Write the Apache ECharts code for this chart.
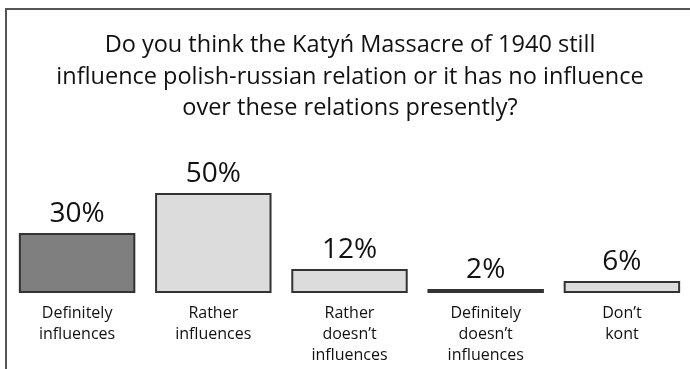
<!DOCTYPE html>
<html>
<head>
<meta charset="utf-8">
<script src="https://cdn.jsdelivr.net/npm/echarts@6/dist/echarts.min.js"></script>
<style>
  html, body { margin: 0; padding: 0; background: #fff; }
  #chart { width: 690px; height: 369px; }
</style>
</head>
<body>
<div id="chart"></div>
<script>
var chartDom = document.getElementById('chart');
var myChart = echarts.init(chartDom);

// data
var categories = [
  'Definitely\ninfluences',
  'Rather\ninfluences',
  'Rather\ndoesn\u2019t\ninfluences',
  'Definitely\ndoesn\u2019t\ninfluences',
  'Don\u2019t\nkont'
];
var values = [30, 50, 12, 2, 6];
var barColors = ['#7f7f7f', '#dcdcdc', '#dcdcdc', '#dcdcdc', '#dcdcdc'];

var titleText = 'Do you think the Katy\u0144 Massacre of 1940 still\n' +
  'influence polish-russian relation or it has no influence\n' +
  'over these relations presently?';

var option = {
  backgroundColor: '#fff',
  title: {
    text: titleText,
    left: 345,
    top: 25,
    textAlign: 'center',
    textStyle: {
      fontFamily: 'Open Sans',
      fontWeight: 'normal',
      fontSize: 23.5,
      lineHeight: 31.5,
      color: '#111'
    }
  },
  graphic: [
    {
      type: 'polyline',
      shape: { points: [[6, 369], [6, 9], [690, 9]] },
      style: { stroke: '#555', lineWidth: 2, fill: null }
    }
  ],
  grid: {
    left: 9,
    right: -1,
    top: 93,
    height: 200
  },
  xAxis: {
    type: 'category',
    data: categories,
    axisLine: { show: false },
    axisTick: { show: false },
    axisLabel: {
      interval: 0,
      margin: 10,
      fontFamily: 'Open Sans',
      fontSize: 16,
      lineHeight: 21,
      color: '#111'
    }
  },
  yAxis: {
    type: 'value',
    min: 0,
    max: 100,
    show: false,
    splitLine: { show: false }
  },
  series: [
    {
      type: 'bar',
      barCategoryGap: '14.5%',
      data: values.map(function (v, i) {
        return {
          value: v,
          itemStyle: { color: barColors[i] }
        };
      }),
      itemStyle: {
        borderColor: '#333',
        borderWidth: 2
      },
      label: {
        show: true,
        position: 'top',
        distance: 5,
        formatter: '{c}%',
        fontFamily: 'Open Sans',
        fontSize: 28,
        color: '#111'
      },
      emphasis: { disabled: true }
    }
  ]
};

option && myChart.setOption(option);

window.addEventListener('resize', function () {
  myChart.resize();
});
</script>
</body>
</html>
